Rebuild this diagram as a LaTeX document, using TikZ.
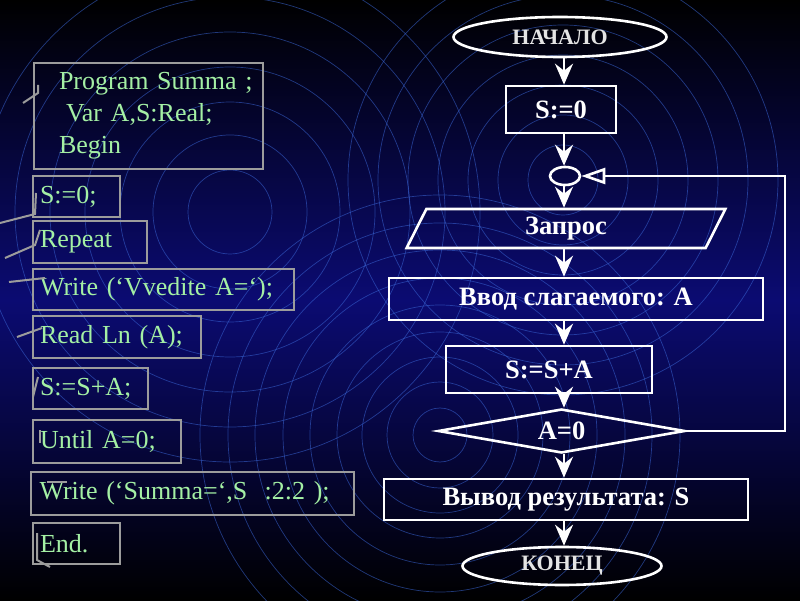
\documentclass[tikz,border=0pt]{standalone}
\usepackage{fontspec}
\setmainfont{Liberation Serif}
\usetikzlibrary{arrows.meta,shapes.geometric}
\definecolor{bgmid}{HTML}{0B0B72}
\definecolor{ring}{HTML}{3A66D6}
\definecolor{boxgrey}{HTML}{9C9C9C}
\definecolor{code}{HTML}{A4F0A4}
\definecolor{termtext}{HTML}{E4E4E4}
\tikzset{
  codebox/.style={draw=boxgrey, line width=2pt, text=code, anchor=north west,
    align=left, inner xsep=7pt, inner ysep=0pt,
    font=\fontsize{26}{32}\selectfont},
  flowbox/.style={draw=white, line width=2.6pt, text=white, inner sep=0pt,
    font=\fontsize{26.5}{28}\selectfont\bfseries},
  term/.style={flowbox, ellipse, text=termtext,
    font=\fontsize{22}{24}\selectfont\bfseries},
  proc/.style={flowbox, rectangle},
  io/.style={flowbox, trapezium, trapezium left angle=76,
    trapezium right angle=104, trapezium stretches=true},
  test/.style={flowbox, diamond, shape aspect=5.6},
  flow/.style={-{Stealth[length=21pt,width=18pt,inset=7pt]}, draw=white,
    line width=2.6pt},
  back/.style={-{Triangle[open,length=24pt,width=16pt]}, draw=white,
    line width=2.6pt},
  ringline/.style={draw=ring, line width=.7pt, opacity=.55},
  tick/.style={draw=boxgrey, line width=2pt}
}

\begin{document}
\begin{tikzpicture}[x=1pt,y=1pt]
\useasboundingbox (0,0) rectangle (800,600);

% slide background with the concentric rings
\shade[top color=black, bottom color=black, middle color=bgmid]
  (0,0) rectangle (800,600);
\begin{scope}
  \clip (0,0) rectangle (800,600);
  \foreach \r in {42,77,110,145,180,215,250}
    \draw[ringline] (230,388) circle (\r);
  \foreach \r in {27,53,78,103,130,157,185,212,240}
    \draw[ringline] (440,165) circle (\r);
  \foreach \r in {35,65,95,125,155,185,215}
    \draw[ringline] (563,420) circle (\r);
\end{scope}

% program text, one grey box per statement
\node[codebox, text width=219, minimum height=106, inner xsep=5pt] (head)
  at (33,538)
  {\hspace*{20pt}Program Summa ;\\\hspace*{27pt}Var A,S:Real;\\\hspace*{20pt}Begin};
\node[codebox, text width=73, minimum height=41] (cinit) at (32,425) {S:=0;};
\node[codebox, text width=100, minimum height=42] (crep) at (32,380) {Repeat};
\node[codebox, text width=247, minimum height=41] (cwrite) at (32,332)
  {Write (‘Vvedite A=‘);};
\node[codebox, text width=154, minimum height=42] (cread) at (32,285)
  {Read Ln (A);};
\node[codebox, text width=101, minimum height=41] (cadd) at (32,233) {S:=S+A;};
\node[codebox, text width=134, minimum height=43] (cuntil) at (32,181)
  {Until A=0;};
\node[codebox, text width=306, minimum height=43, inner xsep=8.5pt] (cout)
  at (30,129) {Write (‘Summa=‘,S\ \ :2:2 );};
\node[codebox, text width=73, minimum height=41] (cend) at (32,78) {End.};

% stray strokes left of the boxes
\draw[tick] (23,497) -- (38,507) -- (38,515);
\draw[tick] (0,377) -- (35,386) -- (36,407);
\draw[tick] (5,342) -- (35,355) -- (40,370);
\draw[tick] (9,318) -- (45,322);
\draw[tick] (17,263) -- (42,272);
\draw[tick] (33,203) -- (38,223);
\draw[tick] (40,170) -- (40,157);
\draw[tick] (47,118) -- (67,118);
\draw[tick] (37,67) -- (37,40) -- (50,33);

% flowchart
\coordinate (axis) at (564,0);
\coordinate (loopx) at (785,0);
\node[term, minimum width=213, minimum height=40] (start) at (560,563) {НАЧАЛО};
\node[proc, minimum width=110, minimum height=47] (init) at (561,490.5) {S:=0};
\node[flowbox, ellipse, minimum width=30, minimum height=18] (join) at (565,424) {};
\node[io, minimum width=322, minimum height=39] (ask) at (566,371.5) {Запрос};
\node[proc, minimum width=374, minimum height=42] (inp) at (576,301)
  {Ввод слагаемого: А};
\node[proc, minimum width=206, minimum height=47] (add) at (549,230.5) {S:=S+A};
\node[test, minimum width=247, minimum height=44] (cond) at (561.5,169) {A=0};
\node[proc, minimum width=364, minimum height=41] (res) at (566,100.5)
  {Вывод результата: S};
\node[term, minimum width=199, minimum height=38] (stop) at (562,34) {КОНЕЦ};

\draw[flow] (start.south -| axis) -- (init.north -| axis);
\draw[flow] (init.south -| axis) -- (join.north -| axis);
\draw[flow] (join.south -| axis) -- (ask.north -| axis);
\draw[flow] (ask.south -| axis) -- (inp.north -| axis);
\draw[flow] (inp.south -| axis) -- (add.north -| axis);
\draw[flow] (add.south -| axis) -- (cond.north -| axis);
\draw[flow] (cond.south -| axis) -- (res.north -| axis);
\draw[flow] (res.south -| axis) -- (stop.north -| axis);

% back edge of the repeat loop
\draw[back] (cond.east) -- (cond.east -| loopx) |- (join.east);

\end{tikzpicture}
\end{document}
